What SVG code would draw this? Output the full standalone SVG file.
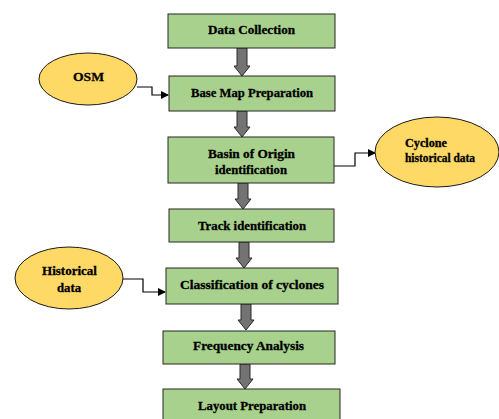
<svg xmlns="http://www.w3.org/2000/svg" width="499" height="419" viewBox="0 0 499 419">
<style>
.box{fill:#A9D18E;stroke:#262626;stroke-width:1}
.ell{fill:#FFD966;stroke:#1a1a1a;stroke-width:1}
.t{font-family:'Liberation Serif',serif;font-weight:bold;font-size:13px;fill:#000;stroke:#000;stroke-width:0.3;text-anchor:middle}
.s{font-family:'Liberation Serif',serif;font-weight:bold;font-size:12px;fill:#000;stroke:#000;stroke-width:0.3}
.blk{fill:#737373;stroke:#2a2a2a;stroke-width:1}
.ln{fill:none;stroke:#000;stroke-width:1.2}
</style>
<defs>
<marker id="ah" markerWidth="8" markerHeight="8" refX="7" refY="4" orient="auto" markerUnits="userSpaceOnUse">
<path d="M0,0 L8,4 L0,8 Z" fill="#000"/>
</marker>
</defs>
<rect width="499" height="419" fill="#fff"/>
<g id="connectors">
<path class="blk" d="M237,48 H247 V66 H250 L242,76 L234,66 H237 Z"/>
<path class="blk" d="M237,111 H247 V127 H250 L242,137 L234,127 H237 Z"/>
<path class="blk" d="M238,183 H248 V199 H251 L243,209 L235,199 H238 Z"/>
<path class="blk" d="M239,242 H249 V258 H252 L244,268 L236,258 H239 Z"/>
<path class="blk" d="M241,304 H251 V320 H254 L246,330 L238,320 H241 Z"/>
<path class="blk" d="M240,364 H250 V379 H253 L245,389 L237,379 H240 Z"/>
<path class="ln" d="M137,87 H152 V95 H168" marker-end="url(#ah)"/>
<path class="ln" d="M334,166 H355 V153 H375" marker-end="url(#ah)"/>
<path class="ln" d="M123,279 H143 V292 H165" marker-end="url(#ah)"/>
</g>
<g id="n1"><rect class="box" x="168" y="14" width="167" height="34"/><text class="t" x="251.5" y="34" textLength="87" lengthAdjust="spacingAndGlyphs">Data Collection</text></g>
<g id="n2"><rect class="box" x="169" y="76" width="166" height="35"/><text class="t" x="252" y="97" textLength="122" lengthAdjust="spacingAndGlyphs">Base Map Preparation</text></g>
<g id="n3"><rect class="box" x="168" y="137" width="166" height="46"/><text class="t" x="251.5" y="158" textLength="87" lengthAdjust="spacingAndGlyphs">Basin of Origin</text><text class="t" x="251" y="174" textLength="72" lengthAdjust="spacingAndGlyphs">identification</text></g>
<g id="n4"><rect class="box" x="169" y="209" width="165" height="33"/><text class="t" x="252" y="230" textLength="108" lengthAdjust="spacingAndGlyphs">Track identification</text></g>
<g id="n5"><rect class="box" x="166" y="268" width="172" height="36"/><text class="t" x="252" y="289" textLength="144" lengthAdjust="spacingAndGlyphs">Classification of cyclones</text></g>
<g id="n6"><rect class="box" x="163" y="331" width="172" height="33"/><text class="t" x="248.5" y="350" textLength="111" lengthAdjust="spacingAndGlyphs">Frequency Analysis</text></g>
<g id="n7"><rect class="box" x="163" y="389" width="177" height="40"/><text class="t" x="252" y="410" textLength="108" lengthAdjust="spacingAndGlyphs">Layout Preparation</text></g>
<g id="osm"><ellipse class="ell" cx="88" cy="79" rx="49" ry="26"/><text class="t" x="88.5" y="81" textLength="31" lengthAdjust="spacingAndGlyphs">OSM</text></g>
<g id="cyclone"><ellipse class="ell" cx="437" cy="152" rx="62" ry="35"/><text class="s" x="405" y="147" textLength="42" lengthAdjust="spacingAndGlyphs">Cyclone</text><text class="s" x="405" y="162" textLength="70" lengthAdjust="spacingAndGlyphs">historical data</text></g>
<g id="hist"><ellipse class="ell" cx="69" cy="278" rx="54" ry="31"/><text class="t" x="69.5" y="275" textLength="55" lengthAdjust="spacingAndGlyphs">Historical</text><text class="t" x="69" y="292" textLength="24" lengthAdjust="spacingAndGlyphs">data</text></g>
</svg>
